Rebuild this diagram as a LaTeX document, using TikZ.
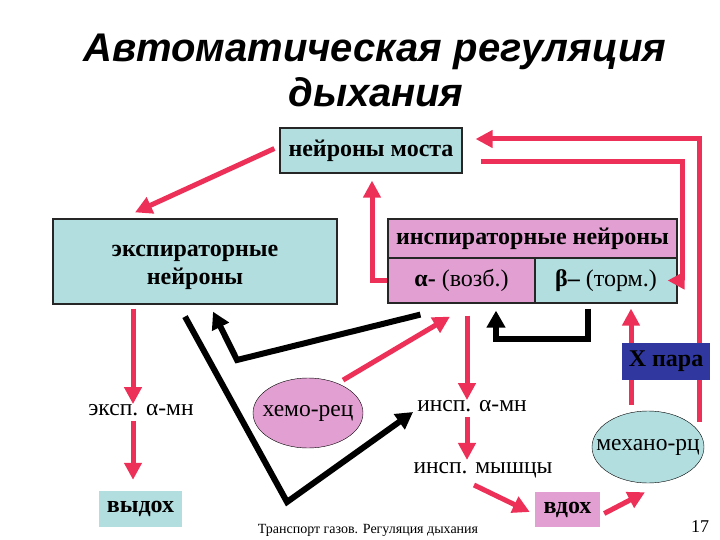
\documentclass[tikz,border=0pt]{standalone}
\usepackage{fontspec}
\setmainfont{Liberation Serif}
\newfontfamily\titlefont{Liberation Sans}
\usepackage{xcolor}
\usetikzlibrary{arrows.meta, shapes.geometric}

\definecolor{boxblue}{RGB}{178,222,224}
\definecolor{boxpink}{RGB}{226,160,210}
\definecolor{arrowred}{RGB}{236,48,88}
\definecolor{vagusblue}{RGB}{48,56,160}

\begin{document}
\begin{tikzpicture}[x=1pt, y=-1pt,
    cellbox/.style={rectangle, draw=black!85, line width=1.2pt, inner sep=0pt, font=\fontsize{24}{29}\selectfont\bfseries},
    plainbox/.style={rectangle, inner sep=0pt, font=\fontsize{24}{28}\selectfont\bfseries},
    receptor/.style={ellipse, draw, thin, inner sep=0pt, font=\fontsize{23.5}{28}\selectfont},
    motor/.style={inner sep=2pt, font=\fontsize{23.5}{28}\selectfont},
    redarrow/.style={draw=arrowred, line width=5pt, -{Triangle[length=17pt,width=17pt]}},
    blackarrow/.style={draw=black, line width=6pt, -{Triangle[length=17pt,width=18pt]}}]
    \useasboundingbox (0,0) rectangle (720,540);

    % Title
    \node[anchor=base, font=\titlefont\fontsize{40}{45}\selectfont\bfseries\itshape] (title1) at (375,62) {Автоматическая регуляция};
    \node[anchor=base, font=\titlefont\fontsize{40}{45}\selectfont\bfseries\itshape] (title2) at (376,107) {дыхания};

    % Centres
    \node[cellbox, fill=boxblue, minimum width=182pt, minimum height=45pt] (most) at (371,150.5) {нейроны моста};
    \node[cellbox, fill=boxblue, minimum width=284pt, minimum height=85pt] (exp) at (195,261.5) {};
    \node[font=\fontsize{24}{28}\selectfont\bfseries, align=center] (exptext) at (195,267) {экспираторные\\нейроны};
    \node[cellbox, fill=boxpink, minimum width=289pt, minimum height=39pt] (insp) at (532.5,238.5) {инспираторные нейроны};
    \node[cellbox, fill=boxpink, minimum width=147pt, minimum height=45pt, font=\fontsize{24}{28}\selectfont] (alpha) at (461.5,280.5) {\textbf{α-} (возб.)};
    \node[cellbox, fill=boxblue, minimum width=142pt, minimum height=45pt, font=\fontsize{24}{28}\selectfont] (beta) at (606,280.5) {\textbf{β–} (торм.)};

    % Motor neurons, muscles, receptors
    \node[motor] (expmn) at (141,410) {эксп. α-мн};
    \node[plainbox, fill=boxblue, minimum width=83pt, minimum height=36pt] (vydoh) at (140.5,509) {выдох};
    \node[receptor, fill=boxpink, minimum width=110pt, minimum height=70pt] (xemo) at (308,413) {\makebox[60pt]{хемо-рец}};
    \node[motor] (inspmn) at (472,406) {инсп. α-мн};
    \node[motor] (inspmysh) at (483,470) {инсп. мышцы};
    \node[plainbox, fill=boxpink, minimum width=65pt, minimum height=35pt] (vdoh) at (567.5,509.5) {вдох};
    \node[receptor, fill=boxblue, minimum width=112pt, minimum height=72pt] (mech) at (648,447) {\makebox[60pt]{механо-рц}};

    % Red connections
    \draw[redarrow] ([xshift=-5pt,yshift=2pt]most.west) -- ([xshift=-60pt,yshift=6pt]exp.north);
    \draw[redarrow] (alpha.west) -| ([xshift=1pt,yshift=-7pt]most.south);
    \draw[redarrow] ([xshift=51pt,yshift=-11pt]mech.north) |- ([xshift=13pt,yshift=11.5pt]most.east);
    \draw[redarrow] ([xshift=18pt,yshift=-11.5pt]most.east) -| ([xshift=5pt]beta.east) -- ([xshift=-10pt]beta.east);
    \draw[redarrow] ([xshift=-4pt,yshift=8pt]xemo.north east) -- ([xshift=-11.5pt,yshift=-13pt]alpha.south);
    \draw[redarrow] ([xshift=5.5pt,yshift=-12pt]alpha.south) -- ([xshift=-5pt,yshift=-2pt]inspmn.north);
    \draw[redarrow] ([xshift=-5pt,yshift=-3pt]inspmn.south) -- ([xshift=-16pt]inspmysh.north);
    \draw[redarrow] ([xshift=-9pt,yshift=-5pt]inspmysh.south) -- ([xshift=-5pt,yshift=-2.5pt]vdoh.west);
    \draw[redarrow] ([xshift=4pt,yshift=-4pt]vdoh.east) -- ([xshift=-3pt,yshift=-9pt]mech.south);
    \draw[redarrow] ([xshift=-17pt,yshift=6pt]mech.north) -- ([xshift=25pt,yshift=-5pt]beta.south);
    \draw[redarrow] ([xshift=-62pt,yshift=-4pt]exp.south) -- ([xshift=-8pt,yshift=-2pt]expmn.north);
    \draw[redarrow] ([xshift=-8pt,yshift=-3pt]expmn.south) -- ([xshift=-7.5pt,yshift=11pt]vydoh.north);

    % Black connections
    \coordinate (bendA) at (287,502);
    \coordinate (bendB) at (237,360);
    \draw[blackarrow] ([xshift=-10pt,yshift=-12pt]exp.south) -- (bendA) -- ([xshift=-2pt,yshift=-6pt]inspmn.west);
    \draw[blackarrow] ([xshift=33pt,yshift=-11pt]alpha.south west) -- (bendB) -- ([xshift=18pt,yshift=-7pt]exp.south);
    \draw[blackarrow] ([xshift=-18pt,yshift=-5pt]beta.south) -- ++(0,30) -| ([xshift=34.5pt,yshift=-7pt]alpha.south);

    % Vagus
    \node[plainbox, fill=vagusblue, minimum width=88pt, minimum height=37pt] (xpara) at (666,361.5) {X пара};

    % Footer
    \node[font=\fontsize{14}{16}\selectfont] (footer) at (368,530) {Транспорт газов. Регуляция дыхания};
    \node[font=\fontsize{18}{20}\selectfont] (pagenum) at (700,527) {17};
\end{tikzpicture}
\end{document}
